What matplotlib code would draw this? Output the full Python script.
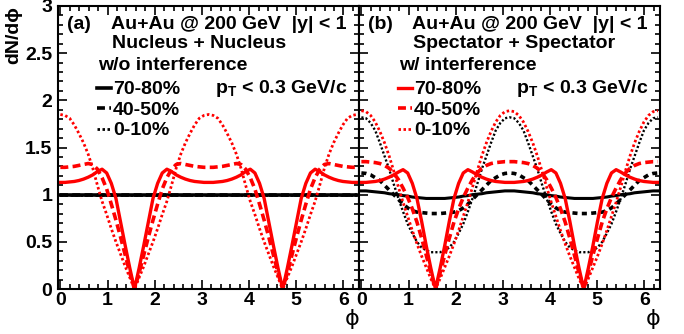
import numpy as np
import matplotlib
matplotlib.use("Agg")
import matplotlib.pyplot as plt
from matplotlib.ticker import MultipleLocator, FuncFormatter

plt.rcParams['font.family'] = ['Liberation Sans', 'DejaVu Sans']
plt.rcParams['font.weight'] = 'bold'
plt.rcParams['mathtext.fontset'] = 'custom'
plt.rcParams['mathtext.bf'] = 'Liberation Sans:bold'
plt.rcParams['mathtext.rm'] = 'Liberation Sans:bold'

# phi grid, step pi/32 over 0..2pi
phi = np.arange(65) * np.pi / 32

# (a) Nucleus + Nucleus
a_black = [1.0] * 65
a_red_solid = [
    1.13, 1.13, 1.135, 1.14, 1.15, 1.165, 1.185, 1.21, 1.245, 1.27, 1.23, 1.12, 0.96, 0.71, 0.46, 0.22, 0.0,
    0.22, 0.46, 0.71, 0.96, 1.12, 1.23, 1.27, 1.245, 1.21, 1.185, 1.165, 1.15, 1.14, 1.135, 1.13, 1.13,
    1.13, 1.135, 1.14, 1.15, 1.165, 1.185, 1.21, 1.245, 1.27, 1.23, 1.12, 0.96, 0.71, 0.46, 0.22, 0.0,
    0.22, 0.46, 0.71, 0.96, 1.12, 1.23, 1.27, 1.245, 1.21, 1.185, 1.165, 1.15, 1.14, 1.135, 1.13, 1.13]
a_red_dash = [
    1.29, 1.29, 1.295, 1.30, 1.31, 1.32, 1.33, 1.32, 1.27, 1.18, 1.06, 0.90, 0.73, 0.55, 0.36, 0.17, 0.0,
    0.17, 0.36, 0.55, 0.73, 0.90, 1.06, 1.18, 1.27, 1.32, 1.33, 1.32, 1.31, 1.30, 1.295, 1.29, 1.29,
    1.29, 1.295, 1.30, 1.31, 1.32, 1.33, 1.32, 1.27, 1.18, 1.06, 0.90, 0.73, 0.55, 0.36, 0.17, 0.0,
    0.17, 0.36, 0.55, 0.73, 0.90, 1.06, 1.18, 1.27, 1.32, 1.33, 1.32, 1.31, 1.30, 1.295, 1.29, 1.29]
a_red_dot = [
    1.85, 1.84, 1.81, 1.74, 1.65, 1.55, 1.43, 1.28, 1.10, 0.93, 0.79, 0.64, 0.50, 0.37, 0.24, 0.12, 0.0,
    0.12, 0.24, 0.37, 0.50, 0.64, 0.79, 0.93, 1.10, 1.28, 1.43, 1.55, 1.65, 1.74, 1.81, 1.84, 1.85,
    1.84, 1.81, 1.74, 1.65, 1.55, 1.43, 1.28, 1.10, 0.93, 0.79, 0.64, 0.50, 0.37, 0.24, 0.12, 0.0,
    0.12, 0.24, 0.37, 0.50, 0.64, 0.79, 0.93, 1.10, 1.28, 1.43, 1.55, 1.65, 1.74, 1.81, 1.84, 1.85]

# (b) Spectator + Spectator
b_red_solid = [
    1.13, 1.13, 1.135, 1.14, 1.15, 1.165, 1.185, 1.21, 1.24, 1.265, 1.23, 1.12, 0.96, 0.72, 0.46, 0.22, 0.0,
    0.22, 0.46, 0.72, 0.96, 1.12, 1.23, 1.265, 1.24, 1.21, 1.185, 1.165, 1.15, 1.14, 1.135, 1.13, 1.13,
    1.13, 1.135, 1.14, 1.15, 1.165, 1.185, 1.21, 1.24, 1.265, 1.23, 1.12, 0.96, 0.72, 0.46, 0.22, 0.0,
    0.22, 0.46, 0.72, 0.96, 1.12, 1.23, 1.265, 1.24, 1.21, 1.185, 1.165, 1.15, 1.14, 1.135, 1.13, 1.13]
b_red_dash = [
    1.35, 1.35, 1.345, 1.34, 1.33, 1.31, 1.28, 1.23, 1.16, 1.07, 0.97, 0.85, 0.71, 0.54, 0.36, 0.17, 0.0,
    0.17, 0.36, 0.54, 0.71, 0.85, 0.97, 1.07, 1.16, 1.23, 1.28, 1.31, 1.33, 1.34, 1.345, 1.35, 1.35,
    1.35, 1.345, 1.34, 1.33, 1.31, 1.28, 1.23, 1.16, 1.07, 0.97, 0.85, 0.71, 0.54, 0.36, 0.17, 0.0,
    0.17, 0.36, 0.54, 0.71, 0.85, 0.97, 1.07, 1.16, 1.23, 1.28, 1.31, 1.33, 1.34, 1.345, 1.35, 1.35]
b_red_dot = [
    1.89, 1.88, 1.84, 1.77, 1.67, 1.55, 1.41, 1.25, 1.08, 0.92, 0.77, 0.62, 0.48, 0.35, 0.23, 0.11, 0.0,
    0.11, 0.23, 0.35, 0.48, 0.62, 0.77, 0.92, 1.08, 1.25, 1.41, 1.55, 1.67, 1.77, 1.84, 1.88, 1.89,
    1.88, 1.84, 1.77, 1.67, 1.55, 1.41, 1.25, 1.08, 0.92, 0.77, 0.62, 0.48, 0.35, 0.23, 0.11, 0.0,
    0.11, 0.23, 0.35, 0.48, 0.62, 0.77, 0.92, 1.08, 1.25, 1.41, 1.55, 1.67, 1.77, 1.84, 1.88, 1.89]
b_blk_solid = [
    1.04, 1.04, 1.035, 1.03, 1.025, 1.02, 1.01, 1.005, 1.0, 0.99, 0.985, 0.975, 0.97, 0.965, 0.96, 0.96, 0.96,
    0.96, 0.96, 0.965, 0.97, 0.975, 0.985, 0.99, 1.0, 1.005, 1.01, 1.02, 1.025, 1.03, 1.035, 1.04, 1.04,
    1.04, 1.035, 1.03, 1.025, 1.02, 1.01, 1.005, 1.0, 0.99, 0.985, 0.975, 0.97, 0.965, 0.96, 0.96, 0.96,
    0.96, 0.96, 0.965, 0.97, 0.975, 0.985, 0.99, 1.0, 1.005, 1.01, 1.02, 1.025, 1.03, 1.035, 1.04, 1.04]
b_blk_dash = [
    1.23, 1.225, 1.21, 1.18, 1.15, 1.10, 1.05, 1.00, 0.95, 0.90, 0.86, 0.83, 0.815, 0.81, 0.805, 0.80, 0.80,
    0.80, 0.805, 0.81, 0.815, 0.83, 0.86, 0.90, 0.95, 1.00, 1.05, 1.10, 1.15, 1.18, 1.21, 1.225, 1.23,
    1.225, 1.21, 1.18, 1.15, 1.10, 1.05, 1.00, 0.95, 0.90, 0.86, 0.83, 0.815, 0.81, 0.805, 0.80, 0.80,
    0.80, 0.805, 0.81, 0.815, 0.83, 0.86, 0.90, 0.95, 1.00, 1.05, 1.10, 1.15, 1.18, 1.21, 1.225, 1.23]
b_blk_dot = [
    1.82, 1.81, 1.76, 1.68, 1.55, 1.41, 1.27, 1.11, 0.96, 0.82, 0.69, 0.59, 0.50, 0.44, 0.41, 0.39, 0.39,
    0.39, 0.41, 0.44, 0.50, 0.59, 0.69, 0.82, 0.96, 1.11, 1.27, 1.41, 1.55, 1.68, 1.76, 1.81, 1.82,
    1.81, 1.76, 1.68, 1.55, 1.41, 1.27, 1.11, 0.96, 0.82, 0.69, 0.59, 0.50, 0.44, 0.41, 0.39, 0.39,
    0.39, 0.41, 0.44, 0.50, 0.59, 0.69, 0.82, 0.96, 1.11, 1.27, 1.41, 1.55, 1.68, 1.76, 1.81, 1.82]

cent_labels = ["70-80%", "40-50%", "0-10%"]

RED = "#ff0000"
FS = 14
DASH = (2.2, 1.2)
DOT = (0.9, 0.9)

fig = plt.figure(figsize=(6.84, 3.34), dpi=100)
W, H = 684.0, 334.0
ax_a = fig.add_axes([58 / W, 1 - 289 / H, 301 / W, 283 / H])
ax_b = fig.add_axes([359 / W, 1 - 289 / H, 301 / W, 283 / H])


def style_axes(ax, ylabels):
    ax.set_xlim(-0.05, 6.33)
    ax.set_ylim(0, 3)
    ax.xaxis.set_major_locator(MultipleLocator(1))
    ax.xaxis.set_minor_locator(MultipleLocator(0.2))
    ax.yaxis.set_major_locator(MultipleLocator(0.5))
    ax.yaxis.set_minor_locator(MultipleLocator(0.1))
    ax.yaxis.set_major_formatter(FuncFormatter(lambda v, p: '%g' % v))
    ax.xaxis.set_major_formatter(FuncFormatter(lambda v, p: '%g' % v))
    ax.tick_params(which='both', direction='in', top=True, right=True, width=1.2)
    ax.tick_params(which='major', length=6.5)
    ax.tick_params(which='minor', length=3.3)
    ax.tick_params(axis='x', labelsize=FS, pad=2)
    ax.tick_params(axis='y', labelsize=FS, pad=4, labelleft=ylabels)
    for s in ax.spines.values():
        s.set_linewidth(1.5)
    ax.set_xlabel('ϕ', fontsize=16, fontweight='normal', family=['DejaVu Sans'],
                  loc='right', labelpad=0)


# panel (a)
la1, = ax_a.plot(phi, a_black, color='black', lw=2.6)
la2, = ax_a.plot(phi, a_black, color='black', lw=2.6, dashes=DASH)
la3, = ax_a.plot(phi, a_black, color='black', lw=2.0, dashes=DOT)
ax_a.plot(phi, a_red_solid, color=RED, lw=2.4)
ax_a.plot(phi, a_red_dash, color=RED, lw=2.6, dashes=DASH)
ax_a.plot(phi, a_red_dot, color=RED, lw=2.0, dashes=DOT)
style_axes(ax_a, True)
ax_a.set_ylabel('dN/dϕ', fontsize=FS, fontweight='bold', loc='top', labelpad=2)

# panel (b)
ax_b.plot(phi, b_blk_solid, color='black', lw=2.2)
ax_b.plot(phi, b_blk_dash, color='black', lw=2.6, dashes=(1.4, 1.2))
ax_b.plot(phi, b_blk_dot, color='black', lw=1.7, dashes=DOT)
lb1, = ax_b.plot(phi, b_red_solid, color=RED, lw=2.4)
lb2, = ax_b.plot(phi, b_red_dash, color=RED, lw=2.6, dashes=DASH)
lb3, = ax_b.plot(phi, b_red_dot, color=RED, lw=2.0, dashes=DOT)
style_axes(ax_b, False)


def annotate(ax, tag, system, interf, handles):
    kw = dict(transform=ax.transAxes, fontsize=FS, fontweight='bold', va='center', ha='left')
    ax.text(0.030, 0.933, tag, **kw)
    ax.text(0.175, 0.933, "Au+Au @ 200 GeV  |y| < 1", **kw)
    ax.text(0.178, 0.866, system, **kw)
    ax.text(0.134, 0.788, interf, **kw)
    ax.text(0.52, 0.707, r"$\mathbf{p_T}$ < 0.3 GeV/c", **kw)
    leg = ax.legend(handles, cent_labels, loc='upper left', bbox_to_anchor=(0.128, 0.736),
                    frameon=False, fontsize=FS, handlelength=0.75, handletextpad=0.1,
                    labelspacing=0.15, borderpad=0, borderaxespad=0)
    for t in leg.get_texts():
        t.set_fontweight('bold')


annotate(ax_a, "(a)", "Nucleus + Nucleus", "w/o interference", [la1, la2, la3])
annotate(ax_b, "(b)", "Spectator + Spectator", "w/ interference", [lb1, lb2, lb3])

fig.savefig("out.png", dpi=100)
